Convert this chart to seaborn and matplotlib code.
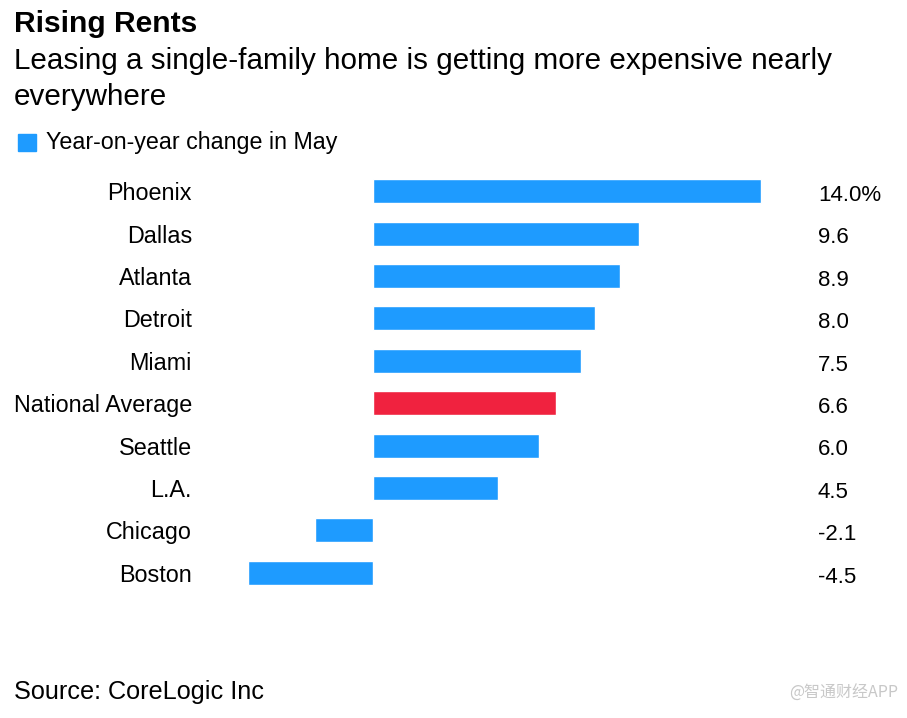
import matplotlib
matplotlib.use("Agg")
import matplotlib.pyplot as plt
import seaborn as sns
import pandas as pd

cities = ["Phoenix", "Dallas", "Atlanta", "Detroit", "Miami", "National Average",
          "Seattle", "L.A.", "Chicago", "Boston"]
changes = [14.0, 9.6, 8.9, 8.0, 7.5, 6.6, 6.0, 4.5, -2.1, -4.5]
value_labels = ["14.0%", "9.6", "8.9", "8.0", "7.5", "6.6", "6.0", "4.5", "-2.1", "-4.5"]

BLUE = "#1E9BFF"
RED = "#F0223F"
colors = [RED if c == "National Average" else BLUE for c in cities]

sns.set_theme(style="white")
plt.rcParams['font.family'] = ['Liberation Sans', 'DejaVu Sans']
plt.rcParams['text.color'] = 'black'

df = pd.DataFrame({"city": cities, "change": changes})

fig = plt.figure(figsize=(9.07, 7.18), dpi=100)
W, H = 907, 718
ax = fig.add_axes([200 / W, 1 - 594 / H, 600 / W, 424 / H])
sns.barplot(data=df, x="change", y="city", hue="city", palette=colors,
            legend=False, orient="h", width=0.57, ax=ax, saturation=1)
ppu = 388 / 14.0
ax.set_xlim((201 - 374) / ppu, (801 - 374) / ppu)
ax.set_ylim(9.5, -0.5)
ax.set_xlabel("")
ax.set_ylabel("")
ax.set_xticks([])
ax.set_yticks([])
for s in ax.spines.values():
    s.set_visible(False)

for i, (c, lab) in enumerate(zip(cities, value_labels)):
    ax.text(-(374 - 193) / ppu, i + 0.06, c, ha="right", va="center", fontsize=16.8)
    ax.text((819 - 374) / ppu, i + 0.1, lab, ha="left", va="center", fontsize=16)

fig.text(14 / W, 1 - 24 / H, "Rising Rents", fontsize=21.6, fontweight="bold",
         ha="left", va="center")
fig.text(14 / W, 1 - 61 / H, "Leasing a single-family home is getting more expensive nearly",
         fontsize=21.3, ha="left", va="center")
fig.text(14 / W, 1 - 97 / H, "everywhere", fontsize=21.3, ha="left", va="center")

fig.patches.append(matplotlib.patches.Rectangle((18 / W, 1 - 151 / H), 18 / W, 17 / H,
                                                 transform=fig.transFigure, color=BLUE))
fig.text(46 / W, 1 - 143 / H, "Year-on-year change in May", fontsize=16.75, ha="left", va="center")

fig.text(14 / W, 1 - 692 / H, "Source: CoreLogic Inc", fontsize=18.2, ha="left", va="center")
fig.text(898 / W, 1 - 693 / H, "@智通财经APP", fontsize=11.5, color="#C8C8C8",
         ha="right", va="center", family=["Noto Sans CJK SC", "DejaVu Sans"])

fig.savefig("out.png", dpi=100, facecolor="white")
